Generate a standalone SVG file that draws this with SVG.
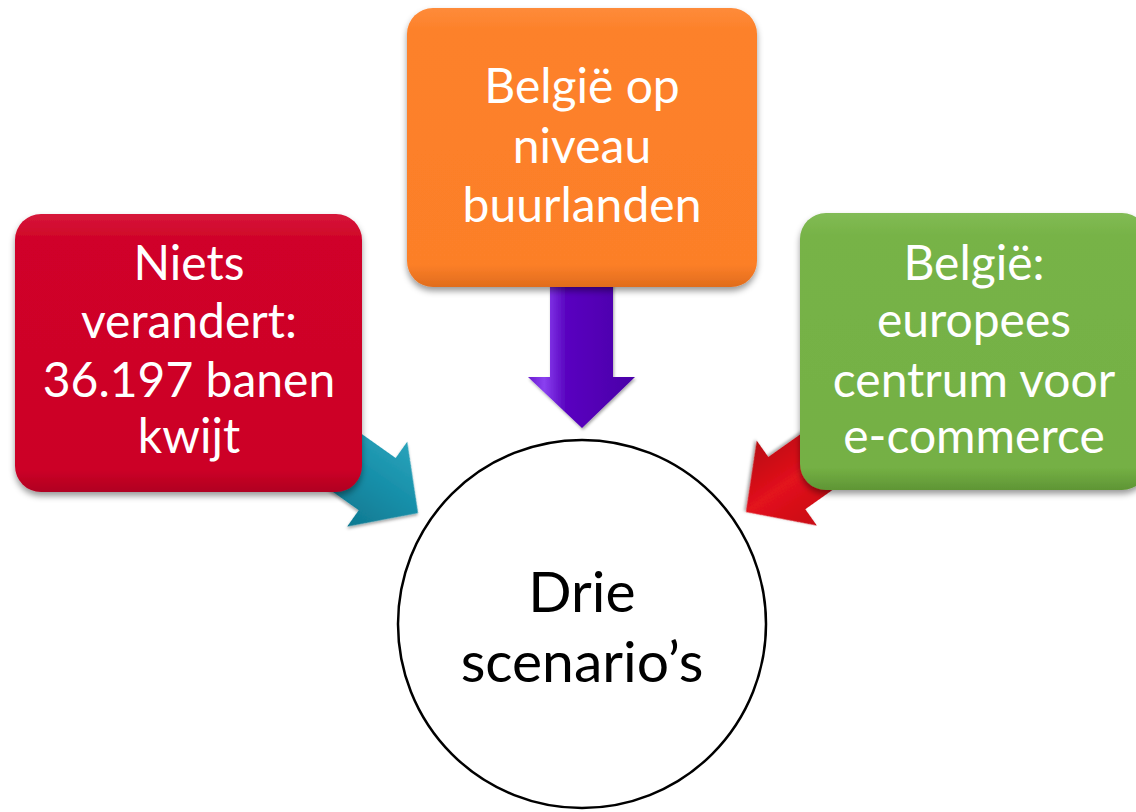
<svg xmlns="http://www.w3.org/2000/svg" width="1136" height="812" viewBox="0 0 1136 812">
<defs>
<filter id="sh" x="-10%" y="-10%" width="120%" height="125%">
<feDropShadow dx="0" dy="4" stdDeviation="3" flood-color="#000" flood-opacity="0.4"/>
</filter>
<filter id="ash" x="-20%" y="-20%" width="140%" height="140%">
<feDropShadow dx="1" dy="2" stdDeviation="1.5" flood-color="#000" flood-opacity="0.35"/>
</filter>
<linearGradient id="gRed" x1="0" y1="0" x2="0" y2="1">
<stop offset="0" stop-color="#d6163a"/><stop offset="0.08" stop-color="#d00629"/><stop offset="0.92" stop-color="#cc0527"/><stop offset="1" stop-color="#b00420"/>
</linearGradient>
<linearGradient id="gOr" x1="0" y1="0" x2="0" y2="1">
<stop offset="0" stop-color="#fe8b3a"/><stop offset="0.08" stop-color="#fd812a"/><stop offset="0.92" stop-color="#fc7f28"/><stop offset="1" stop-color="#e06c1c"/>
</linearGradient>
<linearGradient id="gGr" x1="0" y1="0" x2="0" y2="1">
<stop offset="0" stop-color="#82bb55"/><stop offset="0.08" stop-color="#77b347"/><stop offset="0.92" stop-color="#74b044"/><stop offset="1" stop-color="#5f9535"/>
</linearGradient>
<linearGradient id="gPur" x1="0" y1="0" x2="1" y2="0">
<stop offset="0" stop-color="#6a1ad0"/><stop offset="0.15" stop-color="#8a40f0"/><stop offset="0.35" stop-color="#5a06c0"/><stop offset="1" stop-color="#4a00a8"/>
</linearGradient>
<linearGradient id="gTeal" x1="0" y1="0" x2="0" y2="1">
<stop offset="0" stop-color="#2aa3bb"/><stop offset="0.5" stop-color="#168ea8"/><stop offset="1" stop-color="#0f7890"/>
</linearGradient>
<linearGradient id="gRA" x1="0" y1="0" x2="0" y2="1">
<stop offset="0" stop-color="#c80c14"/><stop offset="0.5" stop-color="#e3121c"/><stop offset="1" stop-color="#b80a10"/>
</linearGradient>
<style>
.t{font-family:Lato,"Open Sans","Liberation Sans",sans-serif;font-size:48px;fill:#fff;text-anchor:middle}
.c{font-family:Lato,"Open Sans","Liberation Sans",sans-serif;font-size:57px;fill:#000;text-anchor:middle}
</style>
</defs>
<rect width="1136" height="812" fill="#fff"/>
<g id="connectors">
<polygon filter="url(#ash)" fill="url(#gTeal)" transform="translate(418,513) rotate(35.3)" points="0,0 -50,52 -50,32 -170,32 -170,-32 -50,-32 -50,-52"/>
<polygon filter="url(#ash)" fill="url(#gRA)" transform="translate(746,512) rotate(144.7)" points="0,0 -50,52 -50,32 -170,32 -170,-32 -50,-32 -50,-52"/>
<polygon filter="url(#ash)" fill="url(#gPur)" points="550,280 613,280 613,377 635,377 582,428 528,377 550,377"/>
</g>
<g id="node-center">
<circle cx="582" cy="624" r="184" fill="#fff" stroke="#000" stroke-width="2.5"/>
<text class="c" x="582" y="612">Drie</text>
<text class="c" x="582" y="682">scenario’s</text>
</g>
<g id="node-left">
<rect x="15" y="214" width="347" height="278" rx="26" fill="url(#gRed)" filter="url(#sh)"/>
<text class="t" x="189" y="280">Niets</text>
<text class="t" x="189" y="338">verandert:</text>
<text class="t" x="189" y="397">36.197 banen</text>
<text class="t" x="189" y="453">kwijt</text>
</g>
<g id="node-top">
<rect x="407" y="8" width="350" height="279" rx="26" fill="url(#gOr)" filter="url(#sh)"/>
<text class="t" x="582" y="103">België op</text>
<text class="t" x="582" y="163">niveau</text>
<text class="t" x="582" y="222">buurlanden</text>
</g>
<g id="node-right">
<rect x="800" y="213" width="348" height="277" rx="26" fill="url(#gGr)" filter="url(#sh)"/>
<text class="t" x="974" y="280">België:</text>
<text class="t" x="974" y="337">europees</text>
<text class="t" x="974" y="397">centrum voor</text>
<text class="t" x="974" y="453">e-commerce</text>
</g>
</svg>
